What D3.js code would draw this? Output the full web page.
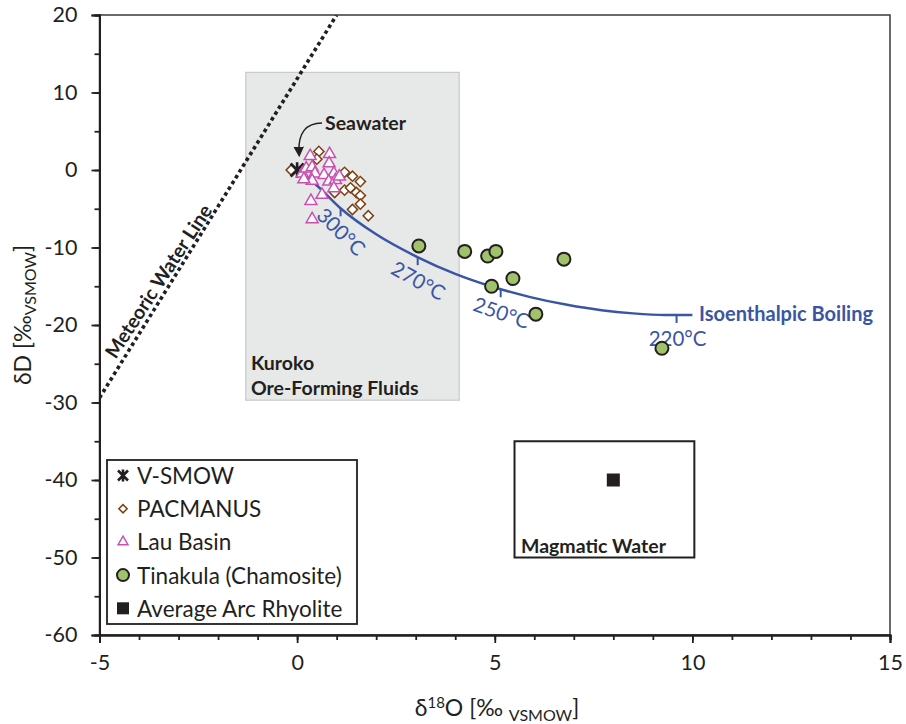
<!DOCTYPE html>
<html><head><meta charset="utf-8">
<script src="https://cdn.jsdelivr.net/npm/d3@7"></script>
<style>body{margin:0;background:#fff} text{font-family:Lato,"Open Sans",sans-serif;fill:#231f20}</style>
</head><body><svg id="c" width="906" height="724"></svg>
<script>
// ---------- data ----------
const xTickValues = [-5, 0, 5, 10, 15];
const xMinorTicks = d3.range(-5, 15.01, 1);
const yTickValues = [20, 10, 0, -10, -20, -30, -40, -50, -60];
const yMinorTicks = d3.range(-60, 20.01, 5);

const vsmow = [[0, 0]];
const pacmanus = [
  [-0.15, 0.0], [0.55, 2.4], [0.5, 1.4], [1.2, -0.3], [1.4, -0.8], [1.6, -1.5],
  [1.2, -2.6], [1.35, -2.3], [1.5, -2.9], [1.6, -3.3], [1.6, -4.4], [1.4, -5.1],
  [1.8, -5.9], [0.95, -2.9]
];
const lauBasin = [
  [0.33, 1.8], [0.82, 2.05], [0.81, 0.85], [0.13, -0.45], [0.23, 0.2], [0.38, 0.35],
  [0.45, -0.45], [0.38, -1.4], [0.17, -1.2], [0.68, -0.65], [0.93, -0.45], [0.8, -1.5],
  [0.97, -1.3], [1.07, -0.85], [0.93, -2.35], [0.63, -3.2], [0.35, -4.0], [0.38, -6.35]
];
const tinakula = [
  [3.08, -9.8], [4.24, -10.5], [4.82, -11.1], [5.03, -10.5], [5.46, -14.0],
  [4.92, -15.0], [6.04, -18.6], [6.75, -11.5], [9.23, -23.0]
];
const arcRhyolite = [[8, -40]];

const boilingCurve = [
  [0, 0], [0.5, -2.0], [1.09, -4.9], [2.0, -8.3], [3.03, -11.2], [4.0, -13.4],
  [4.9, -15.0], [5.9, -16.4], [6.83, -17.4], [7.7, -18.1], [8.5, -18.5], [9.3, -18.7], [10.0, -18.7]
];
const boilingTemps = ["300°C", "270°C", "250°C", "220°C"];
const boilingTempX = [1.1, 3.05, 5.15, 9.6];

const meteoricLine = [[-5, -29.4], [1.0, 20]];
const kurokoBox = [[-1.3, 12.6], [4.1, -29.7]];
const magmaticBox = [[5.5, -35], [10.05, -50]];

const legendLabels = ["V-SMOW", "PACMANUS", "Lau Basin", "Tinakula (Chamosite)", "Average Arc Rhyolite"];

// ---------- setup ----------
const svg = d3.select("#c");
const L = 99.5, R = 890, T = 15, B = 635;
const x = d3.scaleLinear().domain([-5, 15]).range([L, R]);
const y = d3.scaleLinear().domain([-60, 20]).range([B, T]);

const BLUE = "#3b55a5", BROWN = "#7b3f12", PINK = "#c94fb3", GREEN = "#9fc26a", INK = "#231f20";

// Kuroko box
svg.append("rect")
  .attr("x", x(kurokoBox[0][0])).attr("y", y(kurokoBox[0][1]))
  .attr("width", x(kurokoBox[1][0]) - x(kurokoBox[0][0]))
  .attr("height", y(kurokoBox[1][1]) - y(kurokoBox[0][1]))
  .attr("fill", "#e7e8e8").attr("stroke", "#c8c9c9").attr("stroke-width", 1.2);

svg.append("clipPath").attr("id", "pc").append("rect").attr("x", L).attr("y", T).attr("width", R - L).attr("height", B - T);

// Meteoric water line
svg.append("path").attr("clip-path", "url(#pc)")
  .attr("d", d3.line().x(d => x(d[0])).y(d => y(d[1]))(meteoricLine))
  .attr("stroke", INK).attr("stroke-width", 3.6).attr("stroke-dasharray", "3.6 3.2").attr("fill", "none");

// Magmatic box
svg.append("rect")
  .attr("x", x(magmaticBox[0][0])).attr("y", y(magmaticBox[0][1]))
  .attr("width", x(magmaticBox[1][0]) - x(magmaticBox[0][0]))
  .attr("height", y(magmaticBox[1][1]) - y(magmaticBox[0][1]))
  .attr("fill", "none").attr("stroke", INK).attr("stroke-width", 2);

// Boiling curve
const curvePath = svg.append("path")
  .attr("d", d3.line().x(d => x(d[0])).y(d => y(d[1])).curve(d3.curveMonotoneX)(boilingCurve))
  .attr("stroke", BLUE).attr("stroke-width", 2.5).attr("fill", "none");
const pnode = curvePath.node();
const totalLen = pnode.getTotalLength();
function pointAtX(px) {
  let lo = 0, hi = totalLen;
  for (let i = 0; i < 40; i++) {
    const mid = (lo + hi) / 2;
    if (pnode.getPointAtLength(mid).x < px) lo = mid; else hi = mid;
  }
  return pnode.getPointAtLength(lo);
}
boilingTempX.forEach((tx, i) => {
  const px = x(tx);
  const p = pointAtX(px);
  const p1 = pointAtX(px - 6), p2 = pointAtX(px + 6);
  let ang = Math.atan2(p2.y - p1.y, p2.x - p1.x) * 180 / Math.PI;
  ang = ang > 1 ? ang + 3 : ang;
  svg.append("line").attr("x1", px).attr("x2", px).attr("y1", p.y).attr("y2", p.y + 8)
    .attr("stroke", BLUE).attr("stroke-width", 2);
  svg.append("text").text(boilingTemps[i])
    .attr("transform", `translate(${px + 1},${p.y + 23}) rotate(${ang})`)
    .attr("text-anchor", "middle").attr("dominant-baseline", "central")
    .style("fill", BLUE).style("font-size", "20.5px");
});

// Markers
const diamond = d3.symbol().type(d3.symbolSquare).size(52);
svg.append("g").selectAll("path").data(pacmanus).join("path")
  .attr("d", diamond).attr("transform", d => `translate(${x(d[0])},${y(d[1])}) rotate(45)`)
  .attr("fill", "#fff").attr("stroke", BROWN).attr("stroke-width", 1.5);

function drawStar(g, cx, cy, s, w) {
  const p = d3.path();
  p.moveTo(cx - s, cy - s); p.lineTo(cx + s, cy + s);
  p.moveTo(cx + s, cy - s); p.lineTo(cx - s, cy + s);
  p.moveTo(cx, cy - s * 1.2); p.lineTo(cx, cy + s * 1.2);
  g.append("path").attr("d", p.toString()).attr("stroke", INK).attr("stroke-width", w).attr("fill", "none");
}
vsmow.forEach(d => drawStar(svg, x(d[0]), y(d[1]), 6.5, 2.6));

const tri = d3.symbol().type(d3.symbolTriangle).size(62);
svg.append("g").selectAll("path").data(lauBasin).join("path")
  .attr("d", tri).attr("transform", d => `translate(${x(d[0])},${y(d[1])})`)
  .attr("fill", "#fff").attr("stroke", PINK).attr("stroke-width", 1.5);

svg.append("g").selectAll("circle").data(tinakula).join("circle")
  .attr("cx", d => x(d[0])).attr("cy", d => y(d[1])).attr("r", 6.5)
  .attr("fill", GREEN).attr("stroke", INK).attr("stroke-width", 2);

svg.append("g").selectAll("rect").data(arcRhyolite).join("rect")
  .attr("x", d => x(d[0]) - 6.5).attr("y", d => y(d[1]) - 6.5).attr("width", 13).attr("height", 13)
  .attr("fill", INK);

// Annotations
function boldText(t, px, py, opts = {}) {
  return svg.append("text").text(t).attr("x", px).attr("y", py)
    .attr("dominant-baseline", "central")
    .style("font-weight", "bold").style("font-size", opts.size || "19.5px")
    .style("fill", opts.fill || INK);
}
boldText("Seawater", 325, 122);
svg.append("defs").append("marker").attr("id", "ah").attr("viewBox", "0 0 10 10")
  .attr("refX", 5).attr("refY", 5).attr("markerWidth", 7).attr("markerHeight", 7).attr("orient", "auto-start-reverse")
  .append("path").attr("d", "M0,0 L10,5 L0,10 z").attr("fill", INK);
svg.append("path").attr("d", "M322,123 C306,123 298,133 299,152")
  .attr("stroke", INK).attr("stroke-width", 1.5).attr("fill", "none").attr("marker-end", "url(#ah)");

boldText("Kuroko", 251, 362);
boldText("Ore-Forming Fluids", 251, 387);
boldText("Magmatic Water", 521, 545);
boldText("Isoenthalpic Boiling", 699, 313, { fill: BLUE, size: "20px" });
svg.append("text").text("Meteoric Water Line")
  .attr("transform", "translate(158,281) rotate(-57)")
  .attr("text-anchor", "middle").attr("dominant-baseline", "central")
  .style("font-weight", "bold").style("font-size", "19.5px");

// Axes
svg.append("rect").attr("x", L).attr("y", T).attr("width", R - L).attr("height", B - T)
  .attr("fill", "none").attr("stroke", "#3a3a3a").attr("stroke-width", 1.5);

const fmt = d => String(d);
const yMinor = svg.append("g").attr("transform", `translate(${L},0)`)
  .call(d3.axisLeft(y).tickValues(yMinorTicks).tickSize(5).tickFormat(""));
const yAxis = svg.append("g").attr("transform", `translate(${L},0)`)
  .call(d3.axisLeft(y).tickValues(yTickValues).tickSize(8).tickPadding(14).tickFormat(fmt));
const xMinor = svg.append("g").attr("transform", `translate(0,${B})`)
  .call(d3.axisBottom(x).tickValues(xMinorTicks).tickSize(5).tickFormat(""));
const xAxis = svg.append("g").attr("transform", `translate(0,${B})`)
  .call(d3.axisBottom(x).tickValues(xTickValues).tickSize(8).tickPadding(12).tickFormat(fmt));
[yMinor, yAxis, xMinor, xAxis].forEach(g => {
  g.select(".domain").attr("stroke", INK).attr("stroke-width", 2);
  g.selectAll(".tick line").attr("stroke", INK).attr("stroke-width", 1.8);
  g.selectAll("text").style("font-size", "21.5px").style("font-family", "Lato, 'Open Sans', sans-serif").attr("fill", INK);
});

// Axis titles
const xt = svg.append("text").attr("x", 497).attr("y", 716).attr("text-anchor", "middle").style("font-size", "23px");
xt.append("tspan").text("δ");
xt.append("tspan").text("18").attr("dy", -8).style("font-size", "15px");
xt.append("tspan").text("O [‰ ").attr("dy", 8);
xt.append("tspan").text("VSMOW").attr("dy", 5).style("font-size", "16px");
xt.append("tspan").text("]").attr("dy", -5);

const yt = svg.append("text").attr("transform", "translate(31,315) rotate(-90)").attr("text-anchor", "middle").style("font-size", "23px");
yt.append("tspan").text("δD [‰");
yt.append("tspan").text("VSMOW").attr("dy", 5).style("font-size", "16px");
yt.append("tspan").text("]").attr("dy", -5);

// Legend
const lg = svg.append("g");
lg.append("rect").attr("x", 107).attr("y", 460).attr("width", 250).attr("height", 164)
  .attr("fill", "#fff").attr("stroke", INK).attr("stroke-width", 1.8);
legendLabels.forEach((lab, i) => {
  const cy = 475.5 + i * 33.2, cx = 123;
  if (i === 0) drawStar(lg, cx, cy, 5, 2.6);
  if (i === 1) lg.append("path").attr("d", d3.symbol().type(d3.symbolSquare).size(34)).attr("transform", `translate(${cx},${cy}) rotate(45)`).attr("fill", "#fff").attr("stroke", BROWN).attr("stroke-width", 1.5);
  if (i === 2) lg.append("path").attr("d", d3.symbol().type(d3.symbolTriangle).size(42)).attr("transform", `translate(${cx},${cy})`).attr("fill", "#fff").attr("stroke", PINK).attr("stroke-width", 1.5);
  if (i === 3) lg.append("circle").attr("cx", cx).attr("cy", cy).attr("r", 6).attr("fill", GREEN).attr("stroke", INK).attr("stroke-width", 2);
  if (i === 4) lg.append("rect").attr("x", cx - 6).attr("y", cy - 6).attr("width", 12).attr("height", 12).attr("fill", INK);
  lg.append("text").text(lab).attr("x", 137).attr("y", cy).attr("dominant-baseline", "central").style("font-size", "22.5px");
});
</script></body></html>
